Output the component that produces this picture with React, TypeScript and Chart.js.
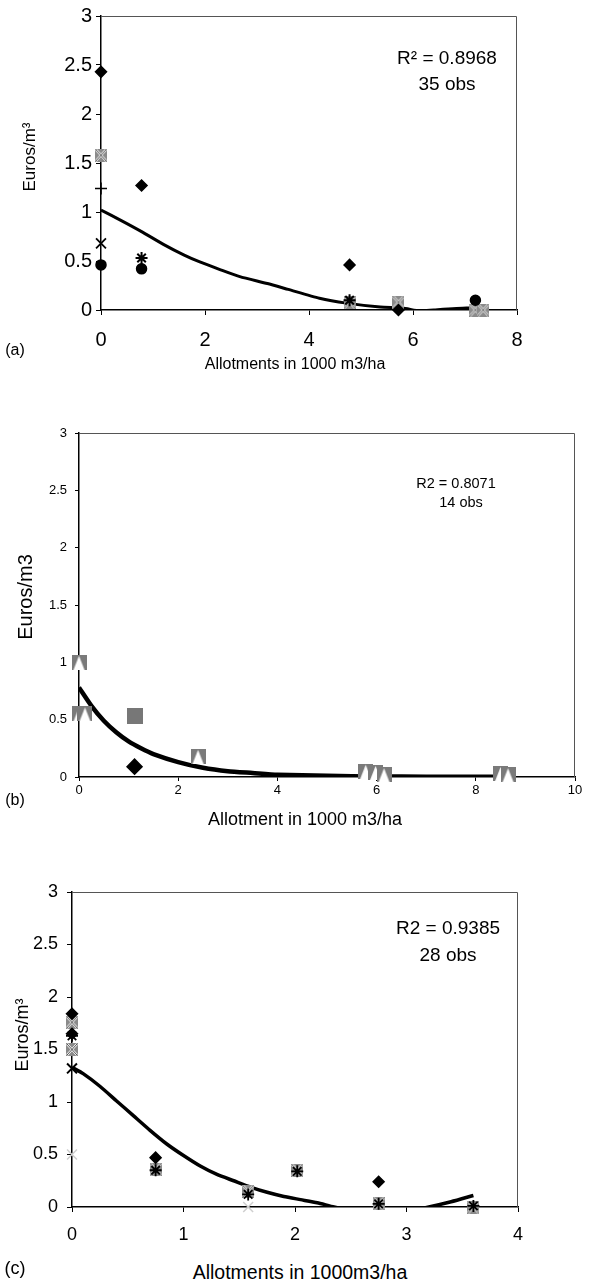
import React, { useEffect, useRef } from "react";
import { Chart, registerables } from "chart.js";
Chart.register(...registerables);

// ---------- Panel (a) data ----------
const aDiamondX = [0, 0.78, 4.78, 5.72];
const aDiamondY = [2.43, 1.27, 0.46, 0.0];
const aXSquareX = [0, 4.78, 5.72, 7.2, 7.35];
const aXSquareY = [1.58, 0.08, 0.08, 0.0, 0.0];
const aPlusX = [0];
const aPlusY = [1.24];
const aCrossX = [0];
const aCrossY = [0.68];
const aCircleX = [0, 0.78, 7.2];
const aCircleY = [0.46, 0.42, 0.1];
const aStarX = [0.78, 4.78];
const aStarY = [0.53, 0.1];
const aFitX = [0, 0.4, 0.78, 1.2, 1.6, 1.9, 2.3, 2.67, 3.2, 3.6, 4.2, 4.72, 5.37, 5.8, 6.13, 6.4, 7.03, 7.3];
const aFitY = [1.02, 0.91, 0.8, 0.67, 0.56, 0.49, 0.41, 0.34, 0.27, 0.21, 0.12, 0.07, 0.03, 0.02, -0.01, 0.0, 0.02, 0.02];
const aXTicks = [0, 2, 4, 6, 8];

// ---------- Panel (b) data ----------
const bTriX = [0, 0, 0.12, 2.4, 5.78, 5.98, 6.15, 8.5, 8.65];
const bTriY = [1.0, 0.55, 0.55, 0.18, 0.05, 0.04, 0.02, 0.03, 0.02];
const bSquareX = [1.12];
const bSquareY = [0.53];
const bDiamondX = [1.12];
const bDiamondY = [0.09];
const bFitX = [0, 0.25, 0.5, 0.75, 1, 1.25, 1.5, 2, 2.5, 3, 3.5, 4, 5, 6, 7, 8, 8.6];
const bFitY = [0.78, 0.62, 0.49, 0.39, 0.31, 0.25, 0.2, 0.13, 0.08, 0.05, 0.035, 0.02, 0.01, 0.005, 0.003, 0.002, 0.001];
const bXTicks = [0, 2, 4, 6, 8, 10];

// ---------- Panel (c) data ----------
const cDiamondX = [0, 0, 0.75, 2.75];
const cDiamondY = [1.84, 1.65, 0.47, 0.24];
const cXSquareX = [0, 0, 0.75, 1.58, 2.02, 2.75, 3.6];
const cXSquareY = [1.76, 1.5, 0.36, 0.15, 0.35, 0.03, 0.0];
const cStarX = [0, 0.75, 1.58, 2.02, 2.75, 3.6];
const cStarY = [1.63, 0.35, 0.12, 0.34, 0.03, 0.01];
const cCrossX = [0];
const cCrossY = [1.32];
const cLightCrossX = [0, 1.58];
const cLightCrossY = [0.5, 0.0];
const cFitX = [0, 0.1, 0.25, 0.4, 0.55, 0.7, 0.85, 1.0, 1.15, 1.3, 1.45, 1.6, 1.75, 1.9, 2.05, 2.2, 2.35, 2.5, 2.75, 3.0, 3.2, 3.4, 3.6];
const cFitY = [1.33, 1.27, 1.15, 1.01, 0.87, 0.73, 0.6, 0.49, 0.39, 0.31, 0.25, 0.19, 0.14, 0.1, 0.07, 0.04, 0.0, -0.03, -0.06, -0.04, 0.0, 0.05, 0.11];
const cXTicks = [0, 1, 2, 3, 4];

const yTicks = [0, 0.5, 1, 1.5, 2, 2.5, 3];

const FONT = '"Liberation Sans", Arial, Helvetica, sans-serif';
const W = 595;

const pts = (xs: number[], ys: number[]) => xs.map((x, i) => ({ x, y: ys[i] }));

function xSquare(w: number, h: number) {
  const c = document.createElement("canvas");
  c.width = w;
  c.height = h;
  const g = c.getContext("2d")!;
  g.fillStyle = "#8a8a8a";
  g.fillRect(0, 0, w, h);
  g.beginPath();
  g.moveTo(1, 1);
  g.lineTo(w - 1, h - 1);
  g.moveTo(w - 1, 1);
  g.lineTo(1, h - 1);
  g.strokeStyle = "#fff";
  g.lineWidth = 2.2;
  g.stroke();
  g.strokeStyle = "#222";
  g.lineWidth = 0.8;
  g.stroke();
  return c;
}

function triTile(s: number) {
  const c = document.createElement("canvas");
  c.width = s;
  c.height = s;
  const g = c.getContext("2d")!;
  g.fillStyle = "#7a7a7a";
  g.fillRect(0, 0, s, s);
  g.fillStyle = "#fff";
  g.beginPath();
  g.moveTo(s / 2, 1);
  g.lineTo(s - 2, s);
  g.lineTo(2, s);
  g.closePath();
  g.fill();
  return c;
}

function greySquare(s: number) {
  const c = document.createElement("canvas");
  c.width = s;
  c.height = s;
  const g = c.getContext("2d")!;
  g.fillStyle = "#777";
  g.fillRect(0, 0, s, s);
  return c;
}

const framePlugin = {
  id: "frame",
  beforeDatasetsDraw(chart: any) {
    const { ctx, chartArea: a } = chart;
    ctx.save();
    ctx.strokeStyle = "#555";
    ctx.lineWidth = 1;
    ctx.beginPath();
    ctx.moveTo(a.left, a.top + 0.5);
    ctx.lineTo(a.right - 0.5, a.top + 0.5);
    ctx.lineTo(a.right - 0.5, a.bottom);
    ctx.stroke();
    ctx.restore();
  },
};

function sc(data: any[], style: any, color: string, radius: number, bw = 1.5) {
  return {
    type: "scatter",
    data,
    pointStyle: style,
    pointRadius: radius,
    pointBackgroundColor: color,
    pointBorderColor: color,
    pointBorderWidth: bw,
    showLine: false,
    clip: false,
  };
}

function fit(data: any[], width: number) {
  return {
    type: "scatter",
    data,
    showLine: true,
    pointRadius: 0,
    borderColor: "#000",
    borderWidth: width,
    tension: 0.2,
    fill: false,
  };
}

type PanelProps = {
  top: number;
  height: number;
  plot: { left: number; top: number; right: number; bottom: number };
  xMax: number;
  xTicks: number[];
  tickSize: number;
  tickLen: number;
  padX: number;
  padY: number;
  build: () => any[];
};

function Panel(p: PanelProps) {
  const ref = useRef<HTMLCanvasElement>(null);
  useEffect(() => {
    const tickFont = { family: FONT, size: p.tickSize };
    const chart = new Chart(ref.current!, {
      type: "scatter",
      data: { datasets: p.build() },
      options: {
        animation: false,
        responsive: false,
        events: [],
        layout: {
          padding: { left: 0, top: p.plot.top - p.top, right: W - p.plot.right, bottom: 0 },
        },
        plugins: { legend: { display: false }, tooltip: { enabled: false } },
        scales: {
          x: {
            type: "linear",
            min: 0,
            max: p.xMax,
            afterBuildTicks: (s: any) => {
              s.ticks = p.xTicks.map((v) => ({ value: v }));
            },
            ticks: {
              font: tickFont,
              color: "#000",
              padding: p.padX,
              maxRotation: 0,
              autoSkip: false,
              callback: (v: any) => String(v),
            },
            grid: { drawOnChartArea: false, drawTicks: true, tickLength: p.tickLen, color: "#000", lineWidth: 1 },
            border: { color: "#000", width: 1.5 },
            afterFit: (s: any) => {
              s.height = p.top + p.height - p.plot.bottom;
            },
          },
          y: {
            type: "linear",
            min: 0,
            max: 3,
            afterBuildTicks: (s: any) => {
              s.ticks = yTicks.map((v) => ({ value: v }));
            },
            ticks: {
              font: tickFont,
              color: "#000",
              padding: p.padY,
              autoSkip: false,
              callback: (v: any) => String(v),
            },
            grid: { drawOnChartArea: false, drawTicks: true, tickLength: p.tickLen, color: "#000", lineWidth: 1 },
            border: { color: "#000", width: 1.5 },
            afterFit: (s: any) => {
              s.width = p.plot.left;
            },
          },
        },
      } as any,
      plugins: [framePlugin],
    });
    return () => chart.destroy();
  }, []);
  return (
    <canvas
      ref={ref}
      width={W}
      height={p.height}
      style={{ position: "absolute", left: 0, top: p.top, width: W, height: p.height }}
    />
  );
}

function Txt(props: { x: number; y: number; size: number; rot?: boolean; children: React.ReactNode }) {
  return (
    <span
      style={{
        position: "absolute",
        left: props.x,
        top: props.y,
        transform: `translate(-50%, -50%)${props.rot ? " rotate(-90deg)" : ""}`,
        fontFamily: FONT,
        fontSize: props.size,
        whiteSpace: "nowrap",
        color: "#000",
        lineHeight: 1,
      }}
    >
      {props.children}
    </span>
  );
}

export default function App() {
  const buildA = () => [
    sc(pts(aDiamondX, aDiamondY), "rectRot", "#000", 5.5),
    sc(pts(aStarX, aStarY), "star", "#000", 6, 2),
    sc(pts(aCircleX, aCircleY), "circle", "#000", 5),
    sc(pts(aCrossX, aCrossY), "crossRot", "#000", 7, 1.8),
    sc(pts(aPlusX, aPlusY), "cross", "#000", 6, 1.5),
    sc(pts(aXSquareX, aXSquareY), xSquare(12, 13), "#888", 6),
    fit(pts(aFitX, aFitY), 3),
  ];
  const buildB = () => [
    sc(pts(bDiamondX, bDiamondY), "rectRot", "#000", 7.5),
    sc(pts(bSquareX, bSquareY), greySquare(16), "#777", 8),
    sc(pts(bTriX, bTriY), triTile(15), "#777", 7.5),
    fit(pts(bFitX, bFitY), 4.5),
  ];
  const buildC = () => [
    sc(pts(cDiamondX, cDiamondY), "rectRot", "#000", 5.5),
    sc(pts(cStarX, cStarY), "star", "#000", 6, 1.8),
    sc(pts(cCrossX, cCrossY), "crossRot", "#000", 7, 2),
    sc(pts(cXSquareX, cXSquareY), xSquare(12, 13), "#888", 6),
    sc(pts(cLightCrossX, cLightCrossY), "crossRot", "#cfcfcf", 7, 1.5),
    fit(pts(cFitX, cFitY), 3.5),
  ];

  return (
    <div style={{ position: "absolute", left: 0, top: 0, width: W, height: 1284, background: "#fff", overflow: "hidden" }}>
      <Panel
        top={0}
        height={360}
        plot={{ left: 101, top: 15, right: 517, bottom: 310 }}
        xMax={8}
        xTicks={aXTicks}
        tickSize={20}
        tickLen={5}
        padX={13}
        padY={4}
        build={buildA}
      />
      <Txt x={29} y={157} size={17} rot>Euros/m³</Txt>
      <Txt x={447} y={57} size={19}>R² = 0.8968</Txt>
      <Txt x={447} y={83} size={19}>35 obs</Txt>
      <Txt x={15} y={350} size={16}>(a)</Txt>
      <Txt x={295} y={364} size={16}>Allotments in 1000 m3/ha</Txt>

      <Panel
        top={400}
        height={410}
        plot={{ left: 79, top: 433, right: 575, bottom: 777 }}
        xMax={10}
        xTicks={bXTicks}
        tickSize={13}
        tickLen={4}
        padX={2}
        padY={8}
        build={buildB}
      />
      <Txt x={25} y={597} size={20} rot>Euros/m3</Txt>
      <Txt x={456} y={483} size={14.5}>R2 = 0.8071</Txt>
      <Txt x={461} y={502} size={14.5}>14 obs</Txt>
      <Txt x={15} y={800} size={16}>(b)</Txt>
      <Txt x={305} y={819} size={18}>Allotment in 1000 m3/ha</Txt>

      <Panel
        top={860}
        height={400}
        plot={{ left: 72, top: 892, right: 518, bottom: 1207 }}
        xMax={4}
        xTicks={cXTicks}
        tickSize={18}
        tickLen={5}
        padX={12}
        padY={9}
        build={buildC}
      />
      <Txt x={22} y={1035} size={18} rot>Euros/m³</Txt>
      <Txt x={448} y={927} size={19}>R2 = 0.9385</Txt>
      <Txt x={448} y={954} size={19}>28 obs</Txt>
      <Txt x={15} y={1268} size={18}>(c)</Txt>
      <Txt x={300} y={1273} size={19.5}>Allotments in 1000m3/ha</Txt>
    </div>
  );
}
